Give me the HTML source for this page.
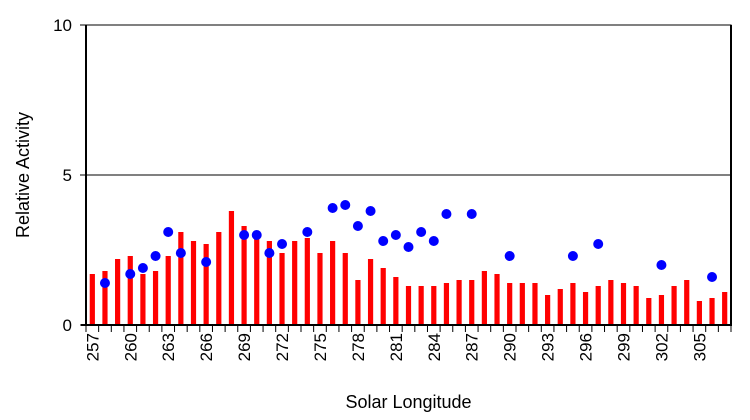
<!DOCTYPE html>
<html><head><meta charset="utf-8"><style>body{margin:0;background:#fff}svg{display:block;font-family:"Liberation Sans",Arial,sans-serif}</style></head>
<body>
<svg id="chart" width="750" height="420" viewBox="0 0 750 420"></svg>
<script>
const startYear = 257;
const barValues = [1.7,1.8,2.2,2.3,1.7,1.8,2.3,3.1,2.8,2.7,3.1,3.8,3.3,3.0,2.8,2.4,2.8,2.9,2.4,2.8,2.4,1.5,2.2,1.9,1.6,1.3,1.3,1.3,1.4,1.5,1.5,1.8,1.7,1.4,1.4,1.4,1.0,1.2,1.4,1.1,1.3,1.5,1.4,1.3,0.9,1.0,1.3,1.5,0.8,0.9,1.1];
const dotLongitudes = [258,260,261,262,263,264,266,269,270,271,272,274,276,277,278,279,280,281,282,283,284,285,287,290,295,297,302,306];
const dotValues = [1.4,1.7,1.9,2.3,3.1,2.4,2.1,3.0,3.0,2.4,2.7,3.1,3.9,4.0,3.3,3.8,2.8,3.0,2.6,3.1,2.8,3.7,3.7,2.3,2.3,2.7,2.0,1.6];
const yTicks = [0,5,10];
const xLabels = [257,260,263,266,269,272,275,278,281,284,287,290,293,296,299,302,305];

const svg = document.getElementById('chart');
const NS = 'http://www.w3.org/2000/svg';
const L=86,R=731,T=25,B=325,N=barValues.length,bw=(R-L)/N;
const x = v => L + (v - startYear + 0.5) * bw;
const y = v => B - (v / 10) * (B - T);
function mk(tag, attrs){const e=document.createElementNS(NS,tag);for(const k in attrs)e.setAttribute(k,attrs[k]);svg.appendChild(e);return e;}

let g = mk('line',{x1:L,x2:R,y1:y(5),y2:y(5),stroke:'#000','stroke-width':1});


let frame = mk('rect',{x:L,y:T,width:R-L,height:B-T,fill:'none',stroke:'#000','stroke-width':1});



barValues.forEach((v,i)=>{
  const b = mk('rect',{x:x(startYear+i)-2.6,y:y(v),width:5.2,height:B-y(v),fill:'#ff0000'});
  
  
});
dotLongitudes.forEach((lon,i)=>{
  const c = mk('circle',{cx:x(lon),cy:y(dotValues[i]),r:5,fill:'#0000ff'});
  
  
});

let ax = mk('line',{x1:L,x2:L,y1:T,y2:B,stroke:'#000','stroke-width':2});


let ax2 = mk('line',{x1:R,x2:R,y1:T,y2:B+1,stroke:'#000','stroke-width':2});


let xa = mk('line',{x1:L-5,x2:R,y1:B,y2:B,stroke:'#000','stroke-width':2});



for(let i=0;i<=N;i++){
  const t = mk('line',{x1:L+i*bw,x2:L+i*bw,y1:B,y2:B+7,stroke:'#000','stroke-width':1});
  
  
}
yTicks.forEach(v=>{
  const t = mk('line',{x1:L-6,x2:L,y1:y(v),y2:y(v),stroke:'#000','stroke-width':1});
  
  
  const tx = mk('text',{x:72,y:y(v)+6,'text-anchor':'end','font-size':17});
  tx.textContent = v;
  
  
});
xLabels.forEach(v=>{
  const tx = mk('text',{transform:`translate(${x(v)+6},333) rotate(-90)`,'text-anchor':'end','font-size':17});
  tx.textContent = v;
  
  
});
let xt = mk('text',{x:(L+R)/2,y:408,'text-anchor':'middle','font-size':18});
xt.textContent='Solar Longitude';


let yt = mk('text',{transform:'translate(29,175) rotate(-90)','text-anchor':'middle','font-size':18});
yt.textContent='Relative Activity';


</script>
</body></html>
